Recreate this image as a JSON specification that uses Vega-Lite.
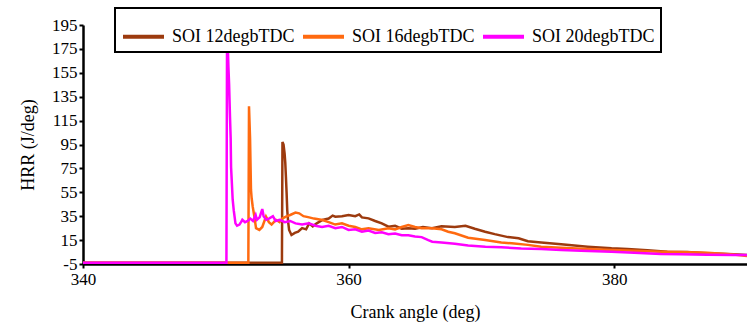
{
  "$schema": "https://vega.github.io/schema/vega-lite/v6.json",
  "width": 664,
  "height": 239,
  "autosize": {"type": "none"},
  "padding": {"left": 83, "top": 25, "right": 0, "bottom": 67},
  "background": "white",
  "config": {
    "view": {"stroke": null},
    "font": "Liberation Serif"
  },
  "datasets": {
    "hrr": [
      {"s": "SOI 12degbTDC", "ca": 340, "v": -4},
      {"s": "SOI 12degbTDC", "ca": 354.98, "v": -4},
      {"s": "SOI 12degbTDC", "ca": 355.02, "v": 97},
      {"s": "SOI 12degbTDC", "ca": 355.1, "v": 95},
      {"s": "SOI 12degbTDC", "ca": 355.18, "v": 87.6},
      {"s": "SOI 12degbTDC", "ca": 355.23, "v": 80},
      {"s": "SOI 12degbTDC", "ca": 355.28, "v": 68},
      {"s": "SOI 12degbTDC", "ca": 355.33, "v": 55},
      {"s": "SOI 12degbTDC", "ca": 355.38, "v": 40},
      {"s": "SOI 12degbTDC", "ca": 355.45, "v": 30},
      {"s": "SOI 12degbTDC", "ca": 355.52, "v": 23.5},
      {"s": "SOI 12degbTDC", "ca": 355.7, "v": 19.3},
      {"s": "SOI 12degbTDC", "ca": 355.95, "v": 21},
      {"s": "SOI 12degbTDC", "ca": 356.2, "v": 22},
      {"s": "SOI 12degbTDC", "ca": 356.5, "v": 25},
      {"s": "SOI 12degbTDC", "ca": 356.8, "v": 24},
      {"s": "SOI 12degbTDC", "ca": 357.03, "v": 29},
      {"s": "SOI 12degbTDC", "ca": 357.3, "v": 26.5},
      {"s": "SOI 12degbTDC", "ca": 357.6, "v": 29},
      {"s": "SOI 12degbTDC", "ca": 358.03, "v": 31.8},
      {"s": "SOI 12degbTDC", "ca": 358.5, "v": 33},
      {"s": "SOI 12degbTDC", "ca": 358.8, "v": 35.5},
      {"s": "SOI 12degbTDC", "ca": 359.0, "v": 34.6},
      {"s": "SOI 12degbTDC", "ca": 359.5, "v": 35},
      {"s": "SOI 12degbTDC", "ca": 360.0, "v": 36},
      {"s": "SOI 12degbTDC", "ca": 360.5, "v": 35},
      {"s": "SOI 12degbTDC", "ca": 360.8, "v": 36.5},
      {"s": "SOI 12degbTDC", "ca": 361.0, "v": 34},
      {"s": "SOI 12degbTDC", "ca": 361.5, "v": 33.2},
      {"s": "SOI 12degbTDC", "ca": 362.0, "v": 31},
      {"s": "SOI 12degbTDC", "ca": 362.5, "v": 29},
      {"s": "SOI 12degbTDC", "ca": 363.0, "v": 26.2},
      {"s": "SOI 12degbTDC", "ca": 363.5, "v": 27},
      {"s": "SOI 12degbTDC", "ca": 364.0, "v": 24.5},
      {"s": "SOI 12degbTDC", "ca": 364.5, "v": 25},
      {"s": "SOI 12degbTDC", "ca": 365.0, "v": 24.5},
      {"s": "SOI 12degbTDC", "ca": 365.6, "v": 26},
      {"s": "SOI 12degbTDC", "ca": 366.28, "v": 24.9},
      {"s": "SOI 12degbTDC", "ca": 367.0, "v": 26.5},
      {"s": "SOI 12degbTDC", "ca": 368.0, "v": 26},
      {"s": "SOI 12degbTDC", "ca": 368.8, "v": 27},
      {"s": "SOI 12degbTDC", "ca": 369.5, "v": 24.5},
      {"s": "SOI 12degbTDC", "ca": 370.28, "v": 22},
      {"s": "SOI 12degbTDC", "ca": 371.0, "v": 20},
      {"s": "SOI 12degbTDC", "ca": 372.0, "v": 17.5},
      {"s": "SOI 12degbTDC", "ca": 372.8, "v": 16.5},
      {"s": "SOI 12degbTDC", "ca": 373.5, "v": 14},
      {"s": "SOI 12degbTDC", "ca": 374.5, "v": 13},
      {"s": "SOI 12degbTDC", "ca": 376.0, "v": 11.5},
      {"s": "SOI 12degbTDC", "ca": 377.0, "v": 10.5},
      {"s": "SOI 12degbTDC", "ca": 378.0, "v": 9.5},
      {"s": "SOI 12degbTDC", "ca": 379.8, "v": 8.1},
      {"s": "SOI 12degbTDC", "ca": 381.0, "v": 7.5},
      {"s": "SOI 12degbTDC", "ca": 382.5, "v": 6.5},
      {"s": "SOI 12degbTDC", "ca": 384.0, "v": 5.3},
      {"s": "SOI 12degbTDC", "ca": 385.5, "v": 5},
      {"s": "SOI 12degbTDC", "ca": 387.0, "v": 4},
      {"s": "SOI 12degbTDC", "ca": 389.0, "v": 3.2},
      {"s": "SOI 12degbTDC", "ca": 390.0, "v": 2.5},

      {"s": "SOI 16degbTDC", "ca": 340, "v": -4},
      {"s": "SOI 16degbTDC", "ca": 352.45, "v": -4},
      {"s": "SOI 16degbTDC", "ca": 352.5, "v": 127},
      {"s": "SOI 16degbTDC", "ca": 352.58, "v": 100},
      {"s": "SOI 16degbTDC", "ca": 352.65, "v": 57},
      {"s": "SOI 16degbTDC", "ca": 352.7, "v": 50},
      {"s": "SOI 16degbTDC", "ca": 352.78, "v": 43},
      {"s": "SOI 16degbTDC", "ca": 352.9, "v": 35},
      {"s": "SOI 16degbTDC", "ca": 353.03, "v": 25},
      {"s": "SOI 16degbTDC", "ca": 353.28, "v": 23.5},
      {"s": "SOI 16degbTDC", "ca": 353.5, "v": 26},
      {"s": "SOI 16degbTDC", "ca": 353.78, "v": 34.6},
      {"s": "SOI 16degbTDC", "ca": 354.0, "v": 30},
      {"s": "SOI 16degbTDC", "ca": 354.2, "v": 28},
      {"s": "SOI 16degbTDC", "ca": 354.53, "v": 32},
      {"s": "SOI 16degbTDC", "ca": 354.8, "v": 30},
      {"s": "SOI 16degbTDC", "ca": 355.0, "v": 33},
      {"s": "SOI 16degbTDC", "ca": 355.28, "v": 34.6},
      {"s": "SOI 16degbTDC", "ca": 355.6, "v": 36},
      {"s": "SOI 16degbTDC", "ca": 356.0, "v": 38},
      {"s": "SOI 16degbTDC", "ca": 356.28, "v": 37.4},
      {"s": "SOI 16degbTDC", "ca": 356.6, "v": 35},
      {"s": "SOI 16degbTDC", "ca": 357.03, "v": 34},
      {"s": "SOI 16degbTDC", "ca": 357.4, "v": 33},
      {"s": "SOI 16degbTDC", "ca": 358.03, "v": 31.8},
      {"s": "SOI 16degbTDC", "ca": 358.5, "v": 30},
      {"s": "SOI 16degbTDC", "ca": 359.0, "v": 28},
      {"s": "SOI 16degbTDC", "ca": 359.5, "v": 29},
      {"s": "SOI 16degbTDC", "ca": 360.0, "v": 27},
      {"s": "SOI 16degbTDC", "ca": 360.5, "v": 26},
      {"s": "SOI 16degbTDC", "ca": 361.0, "v": 24},
      {"s": "SOI 16degbTDC", "ca": 361.5, "v": 25},
      {"s": "SOI 16degbTDC", "ca": 362.28, "v": 23.5},
      {"s": "SOI 16degbTDC", "ca": 363.0, "v": 25},
      {"s": "SOI 16degbTDC", "ca": 363.5, "v": 24},
      {"s": "SOI 16degbTDC", "ca": 364.0, "v": 26},
      {"s": "SOI 16degbTDC", "ca": 364.5, "v": 27.6},
      {"s": "SOI 16degbTDC", "ca": 365.0, "v": 26},
      {"s": "SOI 16degbTDC", "ca": 365.5, "v": 25},
      {"s": "SOI 16degbTDC", "ca": 366.28, "v": 24.9},
      {"s": "SOI 16degbTDC", "ca": 367.0, "v": 24},
      {"s": "SOI 16degbTDC", "ca": 367.5, "v": 22},
      {"s": "SOI 16degbTDC", "ca": 368.0, "v": 20.7},
      {"s": "SOI 16degbTDC", "ca": 369.0, "v": 17},
      {"s": "SOI 16degbTDC", "ca": 370.28, "v": 15},
      {"s": "SOI 16degbTDC", "ca": 371.5, "v": 13},
      {"s": "SOI 16degbTDC", "ca": 372.28, "v": 12.3},
      {"s": "SOI 16degbTDC", "ca": 373.5, "v": 11},
      {"s": "SOI 16degbTDC", "ca": 374.5, "v": 9.5},
      {"s": "SOI 16degbTDC", "ca": 376.0, "v": 8.5},
      {"s": "SOI 16degbTDC", "ca": 378.0, "v": 7.5},
      {"s": "SOI 16degbTDC", "ca": 379.8, "v": 6.7},
      {"s": "SOI 16degbTDC", "ca": 381.5, "v": 6},
      {"s": "SOI 16degbTDC", "ca": 383.5, "v": 5.3},
      {"s": "SOI 16degbTDC", "ca": 385.0, "v": 5},
      {"s": "SOI 16degbTDC", "ca": 387.0, "v": 4.5},
      {"s": "SOI 16degbTDC", "ca": 389.0, "v": 3},
      {"s": "SOI 16degbTDC", "ca": 390.0, "v": 1.7},

      {"s": "SOI 20degbTDC", "ca": 340, "v": -4},
      {"s": "SOI 20degbTDC", "ca": 350.8, "v": -4},
      {"s": "SOI 20degbTDC", "ca": 350.85, "v": 197},
      {"s": "SOI 20degbTDC", "ca": 350.95, "v": 160},
      {"s": "SOI 20degbTDC", "ca": 351.0, "v": 146},
      {"s": "SOI 20degbTDC", "ca": 351.07, "v": 118},
      {"s": "SOI 20degbTDC", "ca": 351.12, "v": 100},
      {"s": "SOI 20degbTDC", "ca": 351.15, "v": 76},
      {"s": "SOI 20degbTDC", "ca": 351.2, "v": 65},
      {"s": "SOI 20degbTDC", "ca": 351.27, "v": 49},
      {"s": "SOI 20degbTDC", "ca": 351.35, "v": 40},
      {"s": "SOI 20degbTDC", "ca": 351.48, "v": 29},
      {"s": "SOI 20degbTDC", "ca": 351.6, "v": 27},
      {"s": "SOI 20degbTDC", "ca": 351.78, "v": 28},
      {"s": "SOI 20degbTDC", "ca": 351.9, "v": 30},
      {"s": "SOI 20degbTDC", "ca": 352.0, "v": 32},
      {"s": "SOI 20degbTDC", "ca": 352.2, "v": 30},
      {"s": "SOI 20degbTDC", "ca": 352.4, "v": 31},
      {"s": "SOI 20degbTDC", "ca": 352.6, "v": 33},
      {"s": "SOI 20degbTDC", "ca": 352.8, "v": 31},
      {"s": "SOI 20degbTDC", "ca": 353.0, "v": 36},
      {"s": "SOI 20degbTDC", "ca": 353.1, "v": 32},
      {"s": "SOI 20degbTDC", "ca": 353.3, "v": 34},
      {"s": "SOI 20degbTDC", "ca": 353.5, "v": 41},
      {"s": "SOI 20degbTDC", "ca": 353.6, "v": 35},
      {"s": "SOI 20degbTDC", "ca": 353.8, "v": 32},
      {"s": "SOI 20degbTDC", "ca": 354.0, "v": 33},
      {"s": "SOI 20degbTDC", "ca": 354.3, "v": 35},
      {"s": "SOI 20degbTDC", "ca": 354.5, "v": 31},
      {"s": "SOI 20degbTDC", "ca": 354.8, "v": 32},
      {"s": "SOI 20degbTDC", "ca": 355.2, "v": 30},
      {"s": "SOI 20degbTDC", "ca": 355.6, "v": 31},
      {"s": "SOI 20degbTDC", "ca": 356.0, "v": 29},
      {"s": "SOI 20degbTDC", "ca": 356.5, "v": 28},
      {"s": "SOI 20degbTDC", "ca": 357.0, "v": 29},
      {"s": "SOI 20degbTDC", "ca": 357.5, "v": 27},
      {"s": "SOI 20degbTDC", "ca": 358.0, "v": 26},
      {"s": "SOI 20degbTDC", "ca": 358.5, "v": 27},
      {"s": "SOI 20degbTDC", "ca": 359.0, "v": 25},
      {"s": "SOI 20degbTDC", "ca": 359.5, "v": 26},
      {"s": "SOI 20degbTDC", "ca": 360.0, "v": 23.5},
      {"s": "SOI 20degbTDC", "ca": 360.5, "v": 24},
      {"s": "SOI 20degbTDC", "ca": 361.0, "v": 22},
      {"s": "SOI 20degbTDC", "ca": 361.5, "v": 23},
      {"s": "SOI 20degbTDC", "ca": 362.0, "v": 21},
      {"s": "SOI 20degbTDC", "ca": 362.5, "v": 21.5},
      {"s": "SOI 20degbTDC", "ca": 363.0, "v": 20},
      {"s": "SOI 20degbTDC", "ca": 363.5, "v": 20.5},
      {"s": "SOI 20degbTDC", "ca": 364.0, "v": 19},
      {"s": "SOI 20degbTDC", "ca": 364.5, "v": 19},
      {"s": "SOI 20degbTDC", "ca": 365.0, "v": 18},
      {"s": "SOI 20degbTDC", "ca": 365.5, "v": 17.5},
      {"s": "SOI 20degbTDC", "ca": 366.0, "v": 15},
      {"s": "SOI 20degbTDC", "ca": 366.3, "v": 13.7},
      {"s": "SOI 20degbTDC", "ca": 367.0, "v": 13},
      {"s": "SOI 20degbTDC", "ca": 368.0, "v": 12},
      {"s": "SOI 20degbTDC", "ca": 369.0, "v": 10.5},
      {"s": "SOI 20degbTDC", "ca": 370.3, "v": 9.5},
      {"s": "SOI 20degbTDC", "ca": 371.5, "v": 9},
      {"s": "SOI 20degbTDC", "ca": 373.0, "v": 8},
      {"s": "SOI 20degbTDC", "ca": 374.5, "v": 7.5},
      {"s": "SOI 20degbTDC", "ca": 376.0, "v": 6.7},
      {"s": "SOI 20degbTDC", "ca": 377.5, "v": 6},
      {"s": "SOI 20degbTDC", "ca": 379.8, "v": 5.3},
      {"s": "SOI 20degbTDC", "ca": 381.5, "v": 4.5},
      {"s": "SOI 20degbTDC", "ca": 383.5, "v": 3.4},
      {"s": "SOI 20degbTDC", "ca": 385.0, "v": 3.2},
      {"s": "SOI 20degbTDC", "ca": 387.0, "v": 2.8},
      {"s": "SOI 20degbTDC", "ca": 389.0, "v": 2.5},
      {"s": "SOI 20degbTDC", "ca": 390.0, "v": 2.5}
    ]
  },
  "data": {"name": "hrr"},
  "mark": {"type": "line", "strokeWidth": 2.5, "clip": true, "strokeJoin": "miter"},
  "encoding": {
    "x": {
      "field": "ca", "type": "quantitative",
      "scale": {"domain": [340, 390], "nice": false, "zero": false},
      "axis": {
        "title": "Crank angle (deg)",
        "values": [340, 360, 380],
        "grid": false,
        "labelFlush": false,
        "domainColor": "black", "domainWidth": 2.5,
        "tickColor": "black", "tickWidth": 2, "tickSize": 4,
        "labelFont": "Liberation Serif", "labelFontSize": 17, "labelColor": "black", "labelPadding": 3,
        "titleFont": "Liberation Serif", "titleFontSize": 18, "titleFontWeight": "normal", "titleColor": "black", "titlePadding": 16
      }
    },
    "y": {
      "field": "v", "type": "quantitative",
      "scale": {"domain": [-5, 195], "nice": false, "zero": false},
      "axis": {
        "title": "HRR (J/deg)",
        "values": [-5, 15, 35, 55, 75, 95, 115, 135, 155, 175, 195],
        "labelExpr": "'' + datum.value",
        "grid": false,
        "labelFlush": false,
        "domainColor": "black", "domainWidth": 2.5,
        "tickColor": "black", "tickWidth": 2, "tickSize": 4,
        "labelFont": "Liberation Serif", "labelFontSize": 17, "labelColor": "black", "labelPadding": 2,
        "titleFont": "Liberation Serif", "titleFontSize": 18, "titleFontWeight": "normal", "titleColor": "black", "titlePadding": 14
      }
    },
    "color": {
      "field": "s", "type": "nominal",
      "scale": {
        "domain": ["SOI 12degbTDC", "SOI 16degbTDC", "SOI 20degbTDC"],
        "range": ["#9C3A0E", "#FF6A10", "#FF00FF"]
      },
      "legend": {
        "title": null,
        "orient": "none",
        "legendX": 32,
        "legendY": -17,
        "direction": "horizontal",
        "symbolType": "stroke",
        "symbolSize": 1681,
        "symbolStrokeWidth": 4,
        "labelFont": "Liberation Serif",
        "labelFontSize": 18,
        "labelColor": "black",
        "labelOffset": 6,
        "columnPadding": 0,
        "padding": 6,
        "strokeColor": "black",
        "fillColor": "white",
        "encode": {"legend": {"update": {"strokeWidth": {"value": 2}}}}
      }
    }
  }
}
